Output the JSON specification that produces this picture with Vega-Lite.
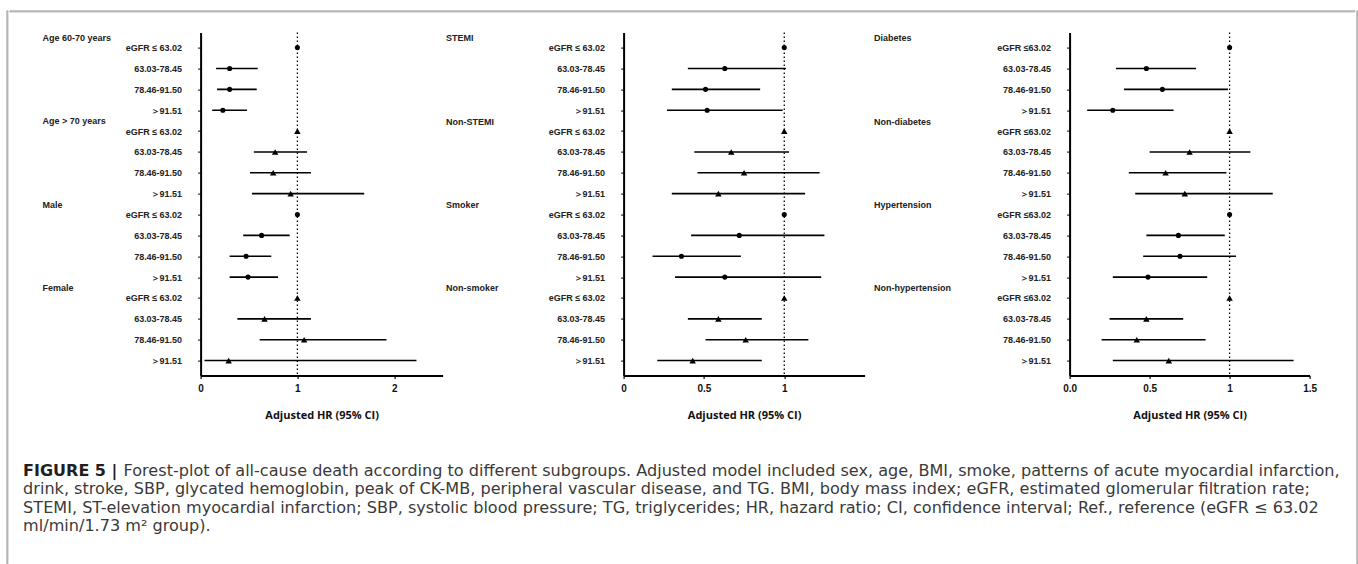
{
  "$schema": "https://vega.github.io/schema/vega-lite/v6.json",
  "padding": {"left": 5.6, "top": 9.6, "right": 0, "bottom": 0},
  "background": "white",
  "config": {
    "view": {"stroke": null},
    "font": "Liberation Sans",
    "axis": {"grid": false}
  },
  "datasets": {
    "panelA": [
      {"key": "01|Age 60-70 years|eGFR ≤ 63.02", "heading": "Age 60-70 years", "hr": 1, "lo": null, "hi": null, "pair": 1},
      {"key": "02||63.03-78.45", "heading": "", "hr": 0.30, "lo": 0.16, "hi": 0.59, "pair": 1},
      {"key": "03||78.46-91.50", "heading": "", "hr": 0.30, "lo": 0.17, "hi": 0.58, "pair": 1},
      {"key": "04||＞91.51", "heading": "", "hr": 0.23, "lo": 0.12, "hi": 0.48, "pair": 1},
      {"key": "05|Age > 70 years|eGFR ≤ 63.02", "heading": "Age > 70 years", "hr": 1, "lo": null, "hi": null, "pair": 2},
      {"key": "06||63.03-78.45", "heading": "", "hr": 0.77, "lo": 0.55, "hi": 1.10, "pair": 2},
      {"key": "07||78.46-91.50", "heading": "", "hr": 0.75, "lo": 0.51, "hi": 1.14, "pair": 2},
      {"key": "08||＞91.51", "heading": "", "hr": 0.93, "lo": 0.53, "hi": 1.69, "pair": 2},
      {"key": "09|Male|eGFR ≤ 63.02", "heading": "Male", "hr": 1, "lo": null, "hi": null, "pair": 1},
      {"key": "10||63.03-78.45", "heading": "", "hr": 0.63, "lo": 0.44, "hi": 0.92, "pair": 1},
      {"key": "11||78.46-91.50", "heading": "", "hr": 0.47, "lo": 0.30, "hi": 0.73, "pair": 1},
      {"key": "12||＞91.51", "heading": "", "hr": 0.49, "lo": 0.30, "hi": 0.80, "pair": 1},
      {"key": "13|Female|eGFR ≤ 63.02", "heading": "Female", "hr": 1, "lo": null, "hi": null, "pair": 2},
      {"key": "14||63.03-78.45", "heading": "", "hr": 0.66, "lo": 0.38, "hi": 1.14, "pair": 2},
      {"key": "15||78.46-91.50", "heading": "", "hr": 1.07, "lo": 0.61, "hi": 1.92, "pair": 2},
      {"key": "16||＞91.51", "heading": "", "hr": 0.29, "lo": 0.04, "hi": 2.23, "pair": 2}
    ],
    "panelB": [
      {"key": "01|STEMI|eGFR ≤ 63.02", "hr": 1, "lo": null, "hi": null, "pair": 1},
      {"key": "02||63.03-78.45", "hr": 0.63, "lo": 0.40, "hi": 1.01, "pair": 1},
      {"key": "03||78.46-91.50", "hr": 0.51, "lo": 0.30, "hi": 0.85, "pair": 1},
      {"key": "04||＞91.51", "hr": 0.52, "lo": 0.27, "hi": 0.99, "pair": 1},
      {"key": "05|Non-STEMI|eGFR ≤ 63.02", "hr": 1, "lo": null, "hi": null, "pair": 2},
      {"key": "06||63.03-78.45", "hr": 0.67, "lo": 0.44, "hi": 1.03, "pair": 2},
      {"key": "07||78.46-91.50", "hr": 0.75, "lo": 0.46, "hi": 1.22, "pair": 2},
      {"key": "08||＞91.51", "hr": 0.59, "lo": 0.30, "hi": 1.13, "pair": 2},
      {"key": "09|Smoker|eGFR ≤ 63.02", "hr": 1, "lo": null, "hi": null, "pair": 1},
      {"key": "10||63.03-78.45", "hr": 0.72, "lo": 0.42, "hi": 1.25, "pair": 1},
      {"key": "11||78.46-91.50", "hr": 0.36, "lo": 0.18, "hi": 0.73, "pair": 1},
      {"key": "12||＞91.51", "hr": 0.63, "lo": 0.32, "hi": 1.23, "pair": 1},
      {"key": "13|Non-smoker|eGFR ≤ 63.02", "hr": 1, "lo": null, "hi": null, "pair": 2},
      {"key": "14||63.03-78.45", "hr": 0.59, "lo": 0.40, "hi": 0.86, "pair": 2},
      {"key": "15||78.46-91.50", "hr": 0.76, "lo": 0.51, "hi": 1.15, "pair": 2},
      {"key": "16||＞91.51", "hr": 0.43, "lo": 0.21, "hi": 0.86, "pair": 2}
    ],
    "panelC": [
      {"key": "01|Diabetes|eGFR ≤63.02", "hr": 1, "lo": null, "hi": null, "pair": 1},
      {"key": "02||63.03-78.45", "hr": 0.48, "lo": 0.29, "hi": 0.79, "pair": 1},
      {"key": "03||78.46-91.50", "hr": 0.58, "lo": 0.34, "hi": 0.99, "pair": 1},
      {"key": "04||＞91.51", "hr": 0.27, "lo": 0.11, "hi": 0.65, "pair": 1},
      {"key": "05|Non-diabetes|eGFR ≤63.02", "hr": 1, "lo": null, "hi": null, "pair": 2},
      {"key": "06||63.03-78.45", "hr": 0.75, "lo": 0.50, "hi": 1.13, "pair": 2},
      {"key": "07||78.46-91.50", "hr": 0.60, "lo": 0.37, "hi": 0.98, "pair": 2},
      {"key": "08||＞91.51", "hr": 0.72, "lo": 0.41, "hi": 1.27, "pair": 2},
      {"key": "09|Hypertension|eGFR ≤63.02", "hr": 1, "lo": null, "hi": null, "pair": 1},
      {"key": "10||63.03-78.45", "hr": 0.68, "lo": 0.48, "hi": 0.97, "pair": 1},
      {"key": "11||78.46-91.50", "hr": 0.69, "lo": 0.46, "hi": 1.04, "pair": 1},
      {"key": "12||＞91.51", "hr": 0.49, "lo": 0.27, "hi": 0.86, "pair": 1},
      {"key": "13|Non-hypertension|eGFR ≤63.02", "hr": 1, "lo": null, "hi": null, "pair": 2},
      {"key": "14||63.03-78.45", "hr": 0.48, "lo": 0.25, "hi": 0.71, "pair": 2},
      {"key": "15||78.46-91.50", "hr": 0.42, "lo": 0.20, "hi": 0.85, "pair": 2},
      {"key": "16||＞91.51", "hr": 0.62, "lo": 0.27, "hi": 1.40, "pair": 2}
    ],
    "reference": [{"ref": 1}],
    "caption": [
      {"line": 1, "part": "label", "text": "FIGURE 5 |"},
      {"line": 1, "part": "first", "text": "Forest-plot of all-cause death according to different subgroups. Adjusted model included sex, age, BMI, smoke, patterns of acute myocardial infarction,"},
      {"line": 2, "part": "rest", "text": "drink, stroke, SBP, glycated hemoglobin, peak of CK-MB, peripheral vascular disease, and TG. BMI, body mass index; eGFR, estimated glomerular filtration rate;"},
      {"line": 3, "part": "rest", "text": "STEMI, ST-elevation myocardial infarction; SBP, systolic blood pressure; TG, triglycerides; HR, hazard ratio; CI, confidence interval; Ref., reference (eGFR ≤ 63.02"},
      {"line": 4, "part": "rest", "text": "ml/min/1.73 m² group)."}
    ]
  },
  "spacing": 0,
  "hconcat": [
    {"width": 1, "height": 553, "view": {"stroke": "#8a8a8a", "strokeWidth": 0.75}, "data": {"values": []}, "mark": "rule", "encoding": {}},
    {
      "spacing": 19,
      "vconcat": [
        {"width": 1345, "height": 1, "view": {"stroke": "#8a8a8a", "strokeWidth": 0.75}, "data": {"values": []}, "mark": "rule", "encoding": {}},
        {
          "spacing": 18,
          "vconcat": [
            {
              "spacing": 3,
              "hconcat": [
                {
                  "width": 110, "height": 343,
                  "data": {"name": "panelA"},
                  "mark": {"type": "text", "align": "left", "baseline": "middle", "dy": -10, "font": "Liberation Sans", "fontWeight": "bold", "fontSize": 9, "color": "#222"},
                  "encoding": {
                    "x": {"datum": 0.3, "type": "quantitative", "scale": {"domain": [0, 1]}, "axis": null},
                    "y": {"field": "key", "type": "ordinal", "scale": {"type": "point", "padding": 0.72}, "axis": null},
                    "text": {"field": "heading"}
                  }
                },
                {
                  "width": 242, "height": 343,
                  "resolve": {"scale": {"y": "shared"}, "axis": {"y": "independent"}},
                  "layer": [
                    {
                      "data": {"name": "panelA"},
                      "mark": {"type": "rule", "color": "black", "strokeWidth": 1.6},
                      "encoding": {
                        "x": {"field": "lo", "type": "quantitative", "title": "Adjusted HR (95% CI)", "scale": {"domain": [0, 2.5], "nice": false, "zero": false},
                          "axis": {"values": [0, 1, 2], "labelExpr": "format(datum.value, 'd')", "domainColor": "black", "domainWidth": 2, "tickColor": "black", "tickSize": 3, "tickWidth": 1.2, "labelFont": "Liberation Sans", "labelFontWeight": "bold", "labelFontSize": 10, "labelColor": "#111", "labelPadding": 5, "labelFlush": false, "titleFont": "Open Sans", "titleFontWeight": "bold", "titleFontSize": 11, "titleColor": "#111", "titlePadding": 16}},
                        "x2": {"field": "hi"},
                        "y": {"field": "key", "type": "ordinal", "scale": {"type": "point", "padding": 0.72},
                          "axis": {"orient": "left", "title": null, "labelExpr": "split(datum.value, '|')[2]", "minExtent": 78, "domainColor": "black", "domainWidth": 2, "tickColor": "black", "tickSize": 3, "tickWidth": 1, "labelPadding": 16, "labelFont": "Liberation Sans", "labelFontWeight": "bold", "labelFontSize": 9, "labelColor": "#222", "labelOverlap": false}}
                      }
                    },
                    {
                      "data": {"name": "panelA"},
                      "mark": {"type": "point", "filled": true, "opacity": 1, "color": "black"},
                      "encoding": {
                        "x": {"field": "hr", "type": "quantitative", "title": "Adjusted HR (95% CI)"},
                        "y": {"field": "key", "type": "ordinal", "axis": null},
                        "shape": {"field": "pair", "type": "ordinal", "scale": {"domain": [1, 2], "range": ["circle", "triangle-up"]}, "legend": null},
                        "size": {"field": "pair", "type": "ordinal", "scale": {"domain": [1, 2], "range": [26, 42]}, "legend": null}
                      }
                    },
                    {
                      "data": {"name": "reference"},
                      "mark": {"type": "rule", "color": "black", "strokeWidth": 1.3, "strokeDash": [1.5, 2.5]},
                      "encoding": {"x": {"field": "ref", "type": "quantitative", "title": "Adjusted HR (95% CI)"}}
                    }
                  ]
                },
                {
                  "spacing": 9,
                  "hconcat": [
                    {
                      "width": 241, "height": 343,
                      "resolve": {"scale": {"y": "shared"}, "axis": {"y": "independent"}},
                      "layer": [
                        {
                          "data": {"name": "panelB"},
                          "mark": {"type": "rule", "color": "black", "strokeWidth": 1.6},
                          "encoding": {
                            "x": {"field": "lo", "type": "quantitative", "title": "Adjusted HR (95% CI)", "scale": {"domain": [0, 1.5], "nice": false, "zero": false},
                              "axis": {"values": [0, 0.5, 1], "labelExpr": "format(datum.value, '~g')", "domainColor": "black", "domainWidth": 2, "tickColor": "black", "tickSize": 3, "tickWidth": 1.2, "labelFont": "Liberation Sans", "labelFontWeight": "bold", "labelFontSize": 10, "labelColor": "#111", "labelPadding": 5, "labelFlush": false, "titleFont": "Open Sans", "titleFontWeight": "bold", "titleFontSize": 11, "titleColor": "#111", "titlePadding": 16}},
                            "x2": {"field": "hi"},
                            "y": {"field": "key", "type": "ordinal", "scale": {"type": "point", "padding": 0.72},
                              "axis": {"orient": "left", "title": null, "labelExpr": "split(datum.value, '|')[2]", "domainColor": "black", "domainWidth": 2, "tickColor": "black", "tickSize": 3, "tickWidth": 1, "labelPadding": 16, "labelFont": "Liberation Sans", "labelFontWeight": "bold", "labelFontSize": 9, "labelColor": "#222", "labelOverlap": false}}
                          }
                        },
                        {
                          "data": {"name": "panelB"},
                          "mark": {"type": "point", "filled": true, "opacity": 1, "color": "black"},
                          "encoding": {
                            "x": {"field": "hr", "type": "quantitative", "title": "Adjusted HR (95% CI)"},
                            "y": {"field": "key", "type": "ordinal",
                              "axis": {"orient": "left", "title": null, "labelExpr": "split(datum.value, '|')[1]", "domain": false, "ticks": false, "tickSize": 0, "labelAlign": "left", "labelPadding": 178, "maxExtent": 260, "labelOffset": -10, "labelFont": "Liberation Sans", "labelFontWeight": "bold", "labelFontSize": 9, "labelColor": "#222", "labelOverlap": false}},
                            "shape": {"field": "pair", "type": "ordinal", "scale": {"domain": [1, 2], "range": ["circle", "triangle-up"]}, "legend": null},
                            "size": {"field": "pair", "type": "ordinal", "scale": {"domain": [1, 2], "range": [26, 42]}, "legend": null}
                          }
                        },
                        {
                          "data": {"name": "reference"},
                          "mark": {"type": "rule", "color": "black", "strokeWidth": 1.3, "strokeDash": [1.5, 2.5]},
                          "encoding": {"x": {"field": "ref", "type": "quantitative", "title": "Adjusted HR (95% CI)"}}
                        }
                      ]
                    },
                    {
                      "width": 240, "height": 343,
                      "resolve": {"scale": {"y": "shared"}, "axis": {"y": "independent"}},
                      "layer": [
                        {
                          "data": {"name": "panelC"},
                          "mark": {"type": "rule", "color": "black", "strokeWidth": 1.6},
                          "encoding": {
                            "x": {"field": "lo", "type": "quantitative", "title": "Adjusted HR (95% CI)", "scale": {"domain": [0, 1.5], "nice": false, "zero": false},
                              "axis": {"values": [0, 0.5, 1, 1.5], "labelExpr": "datum.value === 1 ? '1' : format(datum.value, '.1f')", "domainColor": "black", "domainWidth": 2, "tickColor": "black", "tickSize": 3, "tickWidth": 1.2, "labelFont": "Liberation Sans", "labelFontWeight": "bold", "labelFontSize": 10, "labelColor": "#111", "labelPadding": 5, "labelFlush": false, "titleFont": "Open Sans", "titleFontWeight": "bold", "titleFontSize": 11, "titleColor": "#111", "titlePadding": 16}},
                            "x2": {"field": "hi"},
                            "y": {"field": "key", "type": "ordinal", "scale": {"type": "point", "padding": 0.72},
                              "axis": {"orient": "left", "title": null, "labelExpr": "split(datum.value, '|')[2]", "domainColor": "black", "domainWidth": 2, "tickColor": "black", "tickSize": 3, "tickWidth": 1, "labelPadding": 16, "labelFont": "Liberation Sans", "labelFontWeight": "bold", "labelFontSize": 9, "labelColor": "#222", "labelOverlap": false}}
                          }
                        },
                        {
                          "data": {"name": "panelC"},
                          "mark": {"type": "point", "filled": true, "opacity": 1, "color": "black"},
                          "encoding": {
                            "x": {"field": "hr", "type": "quantitative", "title": "Adjusted HR (95% CI)"},
                            "y": {"field": "key", "type": "ordinal",
                              "axis": {"orient": "left", "title": null, "labelExpr": "split(datum.value, '|')[1]", "domain": false, "ticks": false, "tickSize": 0, "labelAlign": "left", "labelPadding": 196, "maxExtent": 260, "labelOffset": -10, "labelFont": "Liberation Sans", "labelFontWeight": "bold", "labelFontSize": 9, "labelColor": "#222", "labelOverlap": false}},
                            "shape": {"field": "pair", "type": "ordinal", "scale": {"domain": [1, 2], "range": ["circle", "triangle-up"]}, "legend": null},
                            "size": {"field": "pair", "type": "ordinal", "scale": {"domain": [1, 2], "range": [26, 42]}, "legend": null}
                          }
                        },
                        {
                          "data": {"name": "reference"},
                          "mark": {"type": "rule", "color": "black", "strokeWidth": 1.3, "strokeDash": [1.5, 2.5]},
                          "encoding": {"x": {"field": "ref", "type": "quantitative", "title": "Adjusted HR (95% CI)"}}
                        }
                      ]
                    }
                  ]
                }
              ]
            },
            {
              "width": 1300,
              "height": 123,
              "data": {"name": "caption"},
              "encoding": {
                "x": {"datum": 0, "type": "quantitative", "scale": {"domain": [0, 1]}, "axis": null},
                "y": {"field": "line", "type": "quantitative", "scale": {"domain": [-1.046, 5.664], "reverse": true, "nice": false, "zero": false}, "axis": null},
                "text": {"field": "text"}
              },
              "layer": [
                {"transform": [{"filter": "datum.part === 'label'"}], "mark": {"type": "text", "align": "left", "baseline": "alphabetic", "dx": 13.5, "font": "DejaVu Sans", "fontSize": 16, "fontWeight": "bold", "color": "#231f20"}},
                {"transform": [{"filter": "datum.part === 'first'"}], "mark": {"type": "text", "align": "left", "baseline": "alphabetic", "dx": 114, "font": "DejaVu Sans", "fontSize": 16.1, "color": "#3a3a3a"}},
                {"transform": [{"filter": "datum.part === 'rest'"}], "mark": {"type": "text", "align": "left", "baseline": "alphabetic", "dx": 13.5, "font": "DejaVu Sans", "fontSize": 16.1, "color": "#3a3a3a"}}
              ]
            }
          ]
        }
      ]
    },
    {"width": 1, "height": 553, "view": {"stroke": "#8a8a8a", "strokeWidth": 0.75}, "data": {"values": []}, "mark": "rule", "encoding": {}}
  ]
}
